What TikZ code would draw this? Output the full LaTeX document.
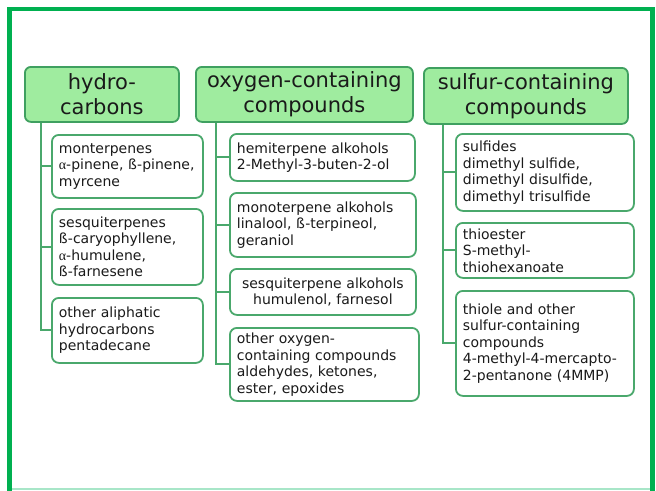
\documentclass[tikz,border=0pt]{standalone}
\usepackage{fontspec}
\setmainfont{DejaVu Sans}
\newfontfamily\grk{Liberation Serif}
\definecolor{framegreen}{HTML}{00B050}
\definecolor{bottomgreen}{HTML}{A8E6C8}
\definecolor{hfill}{HTML}{9FEC9F}
\definecolor{hstroke}{HTML}{3FA060}
\definecolor{cstroke}{HTML}{4AA86C}
\definecolor{txt}{HTML}{1A1A1A}
\hyphenpenalty=10000
\exhyphenpenalty=10000
\begin{document}
\begin{tikzpicture}[x=1pt,y=-1pt,
  hbox/.style={draw=hstroke, fill=hfill, line width=1.8pt, rounded corners=6pt, text=txt,
    align=center, font=\fontsize{21}{25}\selectfont, inner sep=0pt, anchor=north west},
  cbox/.style={draw=cstroke, fill=white, line width=1.8pt, rounded corners=7pt, text=txt,
    align=left, font=\fontsize{14}{16.5}\selectfont,
    inner xsep=7pt, inner ysep=0pt, anchor=north west},
  conn/.style={draw=cstroke, line width=2pt},
  framestyle/.style={draw=framegreen, line width=4.5pt}]
\useasboundingbox (0,0) rectangle (656,490);
\fill[white] (0,0) rectangle (656,490);
% frame
\draw[framestyle] (9.5,495) -- (9.5,9) -- (652.5,9) -- (652.5,495);
\draw[draw=bottomgreen, line width=1.5pt] (12,489) -- (650,489);

% headers
\node[hbox, minimum width=154pt, minimum height=55pt] (hc) at (24,66) {hydro-\\carbons};
\node[hbox, minimum width=217pt, minimum height=55pt] (oc) at (195,66) {oxygen-containing\\compounds};
\node[hbox, minimum width=204pt, minimum height=56pt] (sc) at (423,67) {sulfur-containing\\compounds};

% hydrocarbons
\node[cbox, minimum width=151pt, text width=137pt, minimum height=63pt] (h1) at (51,134)
  {monterpenes\\{\grk α}-pinene,~ß-pinene,\\myrcene};
\node[cbox, minimum width=151pt, text width=137pt, minimum height=76pt] (h2) at (51,208)
  {sesquiterpenes\\ß-caryophyllene,\\{\grk α}-humulene,\\ß-farnesene};
\node[cbox, minimum width=151pt, text width=137pt, minimum height=65pt] (h3) at (51,297)
  {other aliphatic\\hydrocarbons\\pentadecane};

% oxygen-containing
\node[cbox, minimum width=185pt, text width=171pt, minimum height=47pt] (o1) at (229,133)
  {hemiterpene alkohols\\2-Methyl-3-buten-2-ol};
\node[cbox, minimum width=186pt, text width=172pt, minimum height=64pt] (o2) at (229,192)
  {monoterpene alkohols\\linalool, ß-terpineol,\\geraniol};
\node[cbox, align=center, minimum width=186pt, text width=172pt, minimum height=46pt] (o3) at (229,268)
  {sesquiterpene alkohols\\humulenol, farnesol};
\node[cbox, minimum width=189pt, text width=175pt, minimum height=73pt] (o4) at (229,327)
  {other oxygen-\\containing compounds\\aldehydes, ketones,\\ester, epoxides};

% sulfur-containing
\node[cbox, minimum width=178pt, text width=164pt, minimum height=77pt] (s1) at (455,133)
  {sulfides\\dimethyl sulfide,\\dimethyl disulfide,\\dimethyl trisulfide};
\node[cbox, minimum width=178pt, text width=164pt, minimum height=55pt] (s2) at (455,222)
  {thioester\\S-methyl-\\thiohexanoate};
\node[cbox, minimum width=178pt, text width=164pt, minimum height=105pt] (s3) at (455,290)
  {thiole and other\\sulfur-containing\\compounds\\4-methyl-4-mercapto-\\2-pentanone (4MMP)};

% connectors
\coordinate (hx) at (41,121);
\coordinate (ox) at (216,121);
\coordinate (sx) at (443,123);
\draw[conn] (hx |- hc.south) |- (h3.west);
\draw[conn] (hx |- h1.west) -- (h1.west);
\draw[conn] (hx |- h2.west) -- (h2.west);
\draw[conn] (ox |- oc.south) |- (o4.west);
\draw[conn] (ox |- o1.west) -- (o1.west);
\draw[conn] (ox |- o2.west) -- (o2.west);
\draw[conn] (ox |- o3.west) -- (o3.west);
\draw[conn] (sx |- sc.south) |- (s3.west);
\draw[conn] (sx |- s1.west) -- (s1.west);
\draw[conn] (sx |- s2.west) -- (s2.west);
\end{tikzpicture}
\end{document}
